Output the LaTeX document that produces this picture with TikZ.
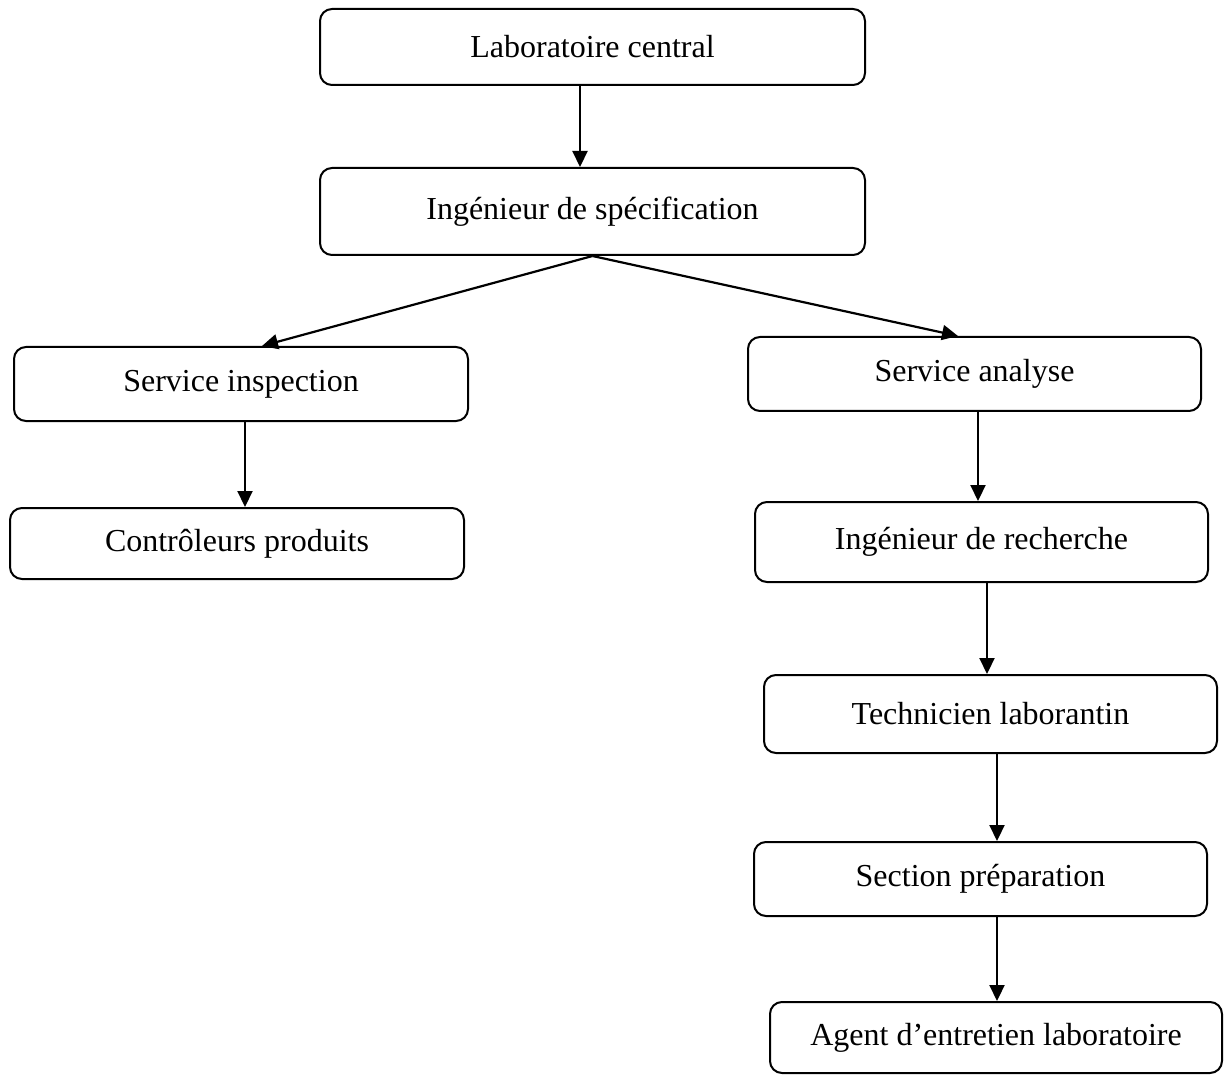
\documentclass[tikz,border=0pt]{standalone}
\usepackage{fontspec}
\setmainfont{Liberation Serif}
\usetikzlibrary{arrows.meta,calc}

\begin{document}
\begin{tikzpicture}[x=0.5pt,y=-0.5pt]
  % Define styles
  \tikzset{
    box/.style={draw, line width=1pt, rounded corners=6pt, inner sep=0pt,
      font=\fontsize{16}{19}\selectfont},
    flow/.style={line width=1.1pt, -{Triangle[length=8pt,width=7.5pt]}}
  }
  \useasboundingbox (0,0) rectangle (1227,1075);
  % Draw boxes
  \node[box, minimum width=272.5pt, minimum height=38pt] (labo) at (592.5,47) {Laboratoire central};
  \node[box, minimum width=272.5pt, minimum height=43.5pt] (ingspec) at (592.5,211.5) {Ingénieur de spécification};
  \node[box, minimum width=227pt, minimum height=37pt] (insp) at (241,384) {Service inspection};
  \node[box, minimum width=226.5pt, minimum height=37pt] (analyse) at (974.5,374) {Service analyse};
  \node[box, minimum width=227pt, minimum height=35.5pt] (ctrl) at (237,543.5) {Contrôleurs produits};
  \node[box, minimum width=226.5pt, minimum height=40pt] (ingrech) at (981.5,542) {Ingénieur de recherche};
  \node[box, minimum width=226.5pt, minimum height=39pt] (tech) at (990.5,714) {Technicien laborantin};
  \node[box, minimum width=226.5pt, minimum height=37pt] (prep) at (980.5,879) {Section préparation};
  \node[box, minimum width=226pt, minimum height=35.5pt] (agent) at (996,1037.5) {Agent d’entretien laboratoire};
  % Draw arrows
  \draw[flow] (labo.south -| 580,0) -- (ingspec.north -| 580,0);
  \draw[flow] (ingspec.south) -- ($(insp.north)+(21,0)$);
  \draw[flow] (ingspec.south) -- ($(analyse.north)+(-16.5,0)$);
  \draw[flow] (insp.south -| 245,0) -- (ctrl.north -| 245,0);
  \draw[flow] (analyse.south -| 978,0) -- (ingrech.north -| 978,0);
  \draw[flow] (ingrech.south -| 987,0) -- (tech.north -| 987,0);
  \draw[flow] (tech.south -| 997,0) -- (prep.north -| 997,0);
  \draw[flow] (prep.south -| 997,0) -- (agent.north -| 997,0);
\end{tikzpicture}
\end{document}
